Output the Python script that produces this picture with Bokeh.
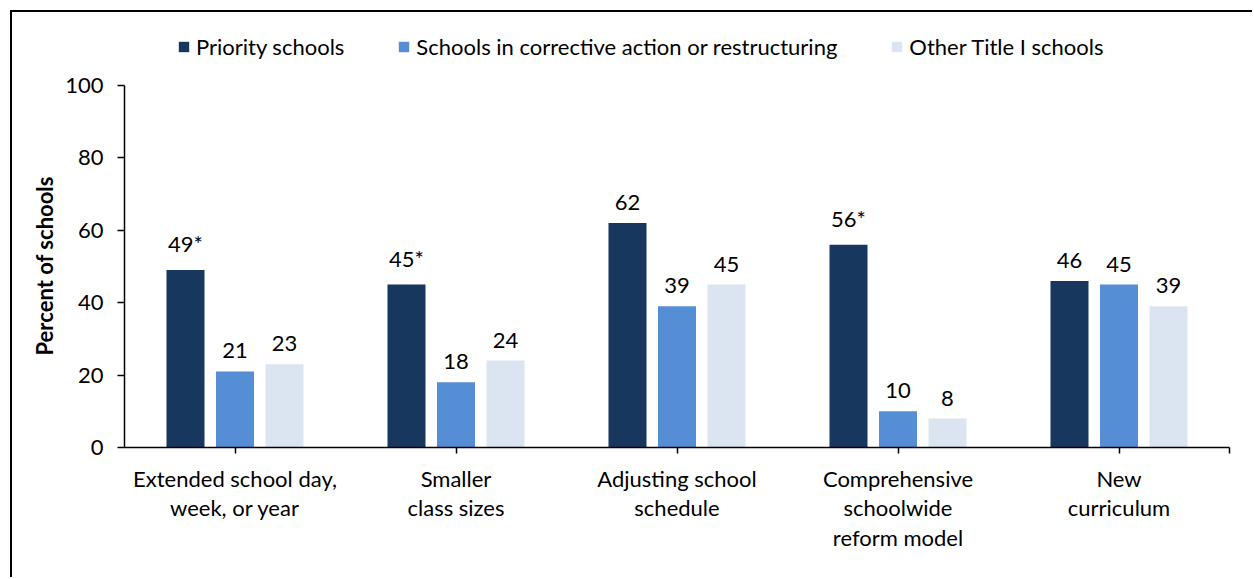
from bokeh.plotting import figure
from bokeh.models import ColumnDataSource, FixedTicker, Range1d, Legend, LegendItem, Title
from bokeh.embed import file_html
from bokeh.resources import INLINE
from bokeh.core.properties import value

categories = ["Extended school day,\nweek, or year", "Smaller\nclass sizes",
              "Adjusting school\nschedule", "Comprehensive\nschoolwide\nreform model",
              "New\ncurriculum"]
series_names = ["Priority schools", "Schools in corrective action or restructuring",
                "Other Title I schools"]
priority = [49, 45, 62, 56, 46]
priority_marks = ["*", "*", "", "*", ""]
corrective = [21, 18, 39, 10, 45]
other = [23, 24, 45, 8, 39]
colors = ["#17375e", "#558ed5", "#dbe5f1"]
y_ticks = [0, 20, 40, 60, 80, 100]
y_axis_max = 100
y_title = "Percent of schools"

FONT = "Lato"
FS = "22px"
# frame extends above the axis top so the legend can sit inside it
y_view_max = y_axis_max * 435 / 362
p = figure(width=1242, height=567, output_backend="svg", toolbar_location=None,
           x_range=Range1d(0, len(categories)), y_range=Range1d(0, y_view_max),
           min_border_left=112, min_border_right=25, min_border_top=0,
           min_border_bottom=132)
p.styles = {"border-left": "2px solid black", "border-top": "2px solid black",
            "margin-left": "10px", "margin-top": "10px"}
p.outline_line_color = None
p.xgrid.visible = False
p.ygrid.visible = False

offsets = [-0.224, 0.0, 0.224]
width = 0.172
series = [priority, corrective, other]
marks = [priority_marks, [""] * 5, [""] * 5]
renderers = []
for k, vals in enumerate(series):
    xs = [i + 0.5 + offsets[k] for i in range(len(categories))]
    labels = [f"{v}{m}" for v, m in zip(vals, marks[k])]
    src = ColumnDataSource(dict(x=xs, top=vals, label=labels))
    r = p.vbar(x="x", top="top", width=width, source=src, fill_color=colors[k],
               line_color=None)
    renderers.append(r)
    p.text(x="x", y="top", text="label", source=src, text_align="center",
           text_baseline="bottom", y_offset=-13, text_font=value(FONT),
           text_font_size=FS, text_color="black")

legend = Legend(items=[LegendItem(label=n, renderers=[r]) for n, r in zip(series_names, renderers)],
                orientation="horizontal", location=(53, 387), border_line_color=None,
                background_fill_alpha=0, label_text_font=FONT, label_text_font_size=FS,
                label_text_color="black",
                glyph_width=13, glyph_height=13, label_standoff=6, spacing=53, padding=0, margin=0)
p.add_layout(legend, "center")

ytitle = Title(text=y_title, align="left", offset=92, text_font=FONT,
               text_font_size="22px", text_font_style="bold", text_color="black",
               standoff=10)
p.add_layout(ytitle, "left")

p.yaxis.ticker = FixedTicker(ticks=y_ticks)
p.yaxis.bounds = (0, y_axis_max)
p.yaxis.major_label_text_font = FONT
p.yaxis.major_label_text_font_size = FS
p.yaxis.major_label_text_color = "black"
p.yaxis.major_label_standoff = 14
p.yaxis.minor_tick_line_color = None
p.yaxis.major_tick_in = 0
p.yaxis.major_tick_out = 7
p.yaxis.axis_line_width = 1.5
p.yaxis.major_tick_line_width = 1.5
p.yaxis.axis_line_color = "black"
p.yaxis.major_tick_line_color = "black"

xt = [i + 0.5 for i in range(len(categories))] + [len(categories)]
p.xaxis.ticker = FixedTicker(ticks=xt)
overrides = {i + 0.5: c for i, c in enumerate(categories)}
overrides[len(categories)] = ""
p.xaxis.major_label_overrides = overrides
p.xaxis.major_label_text_font = FONT
p.xaxis.major_label_text_font_size = FS
p.xaxis.major_label_text_color = "black"
p.xaxis.major_label_text_line_height = 1.1
p.xaxis.major_label_standoff = 11
p.xaxis.minor_tick_line_color = None
p.xaxis.major_tick_in = 0
p.xaxis.major_tick_out = 6
p.xaxis.axis_line_width = 1.5
p.xaxis.major_tick_line_width = 1.5
p.xaxis.axis_line_color = "black"
p.xaxis.major_tick_line_color = "black"

open("out.html", "w").write(file_html(p, INLINE))
